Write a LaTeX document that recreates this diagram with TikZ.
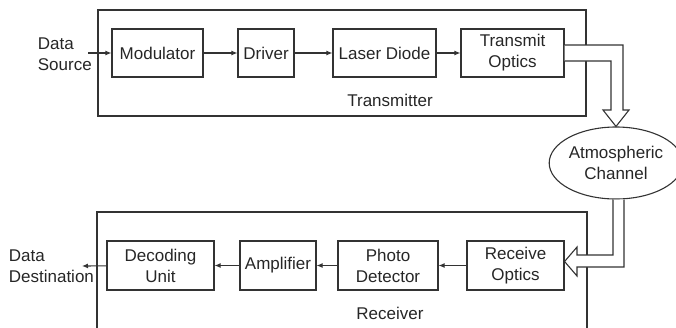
\documentclass[tikz,border=0pt]{standalone}
\usepackage{fontspec}
\setmainfont{Liberation Sans}
\usetikzlibrary{arrows.meta,shapes.geometric}
\begin{document}
\begin{tikzpicture}[x=1pt,y=-1pt,line width=1.1pt,
  every node/.style={font=\fontsize{17}{21}\selectfont,text=black!85},
  blk/.style={draw=black!80,rectangle,minimum height=48pt,inner sep=0pt,align=center},
  arr/.style={draw=black!80,-{Latex[length=6pt,width=5pt]}},
  frame/.style={draw=black!80},
  hollow/.style={draw=black!80,line join=miter}]
\clip (0,0) rectangle (676,327);
% frames
\draw[frame] (98,10) rectangle (586,116);
\draw[frame] (97,212) rectangle (587,345);
\node (txl) at (390,100) {Transmitter};
\node (rxl) at (390,313) {Receiver};
% transmitter blocks
\node[blk,minimum width=91pt] (mod) at (157.5,53) {Modulator};
\node[blk,minimum width=56pt] (drv) at (266,53) {Driver};
\node[blk,minimum width=103pt] (ld) at (384.5,53) {Laser Diode};
\node[blk,minimum width=103pt] (tx) at (512.5,53) {Transmit\\Optics};
% receiver blocks
\node[blk,minimum width=97pt,minimum height=49pt] (ro) at (515.5,265.5) {Receive\\Optics};
\node[blk,minimum width=100pt,minimum height=49pt] (pd) at (388,265.5) {Photo\\Detector};
\node[blk,minimum width=76pt,minimum height=49pt] (amp) at (278,265.5) {Amplifier};
\node[blk,minimum width=107pt,minimum height=49pt] (dec) at (160.5,265.5) {Decoding\\Unit};
% channel
\node[draw=black!80,ellipse,inner sep=0pt,minimum width=118pt,minimum height=72pt,align=center] (ch) at (616,163) {Atmospheric\\Channel};
% texts
\node[anchor=west,align=left] (dstxt) at (34,54) {Data\\Source};
\node[anchor=west,align=left] (ddtxt) at (5,266.5) {Data\\Destination};
\coordinate (dsend) at (88,53);
\coordinate (ddend) at (82,266);
% arrows
\draw[arr] (dsend) -- (mod);
\draw[arr] (mod) -- (drv);
\draw[arr] (drv) -- (ld);
\draw[arr] (ld) -- (tx);
\draw[arr] (ro) -- (pd);
\draw[arr] (pd) -- (amp);
\draw[arr] (amp) -- (dec);
\draw[arr] (dec) -- (ddend);
% hollow arrow down from transmit optics
\path[fill=white] (tx.east|-0,45) -- (623,45) -- (623,110) -- (629,110) -- (617,126) -- (603,110) -- (611,110) -- (611,61) -- (tx.east|-0,61) -- cycle;
\draw[hollow] (tx.east|-0,45) -- (623,45) -- (623,110) -- (629,110) -- (ch.north) -- (603,110) -- (611,110) -- (611,61) -- (tx.east|-0,61);
% hollow arrow from channel to receive optics
\path[fill=white] ([xshift=-3pt]ch.south) -- (613,255) -- (577,255) -- (577,247) -- (ro.east|-0,261.5) -- (577,276) -- (577,267) -- (624,267) -- ([xshift=8pt]ch.south) -- cycle;
\draw[hollow] ([xshift=-3pt]ch.south) -- (613,255) -- (577,255) -- (577,247) -- (ro.east|-0,261.5) -- (577,276) -- (577,267) -- (624,267) -- ([xshift=8pt]ch.south);
\end{tikzpicture}
\end{document}
